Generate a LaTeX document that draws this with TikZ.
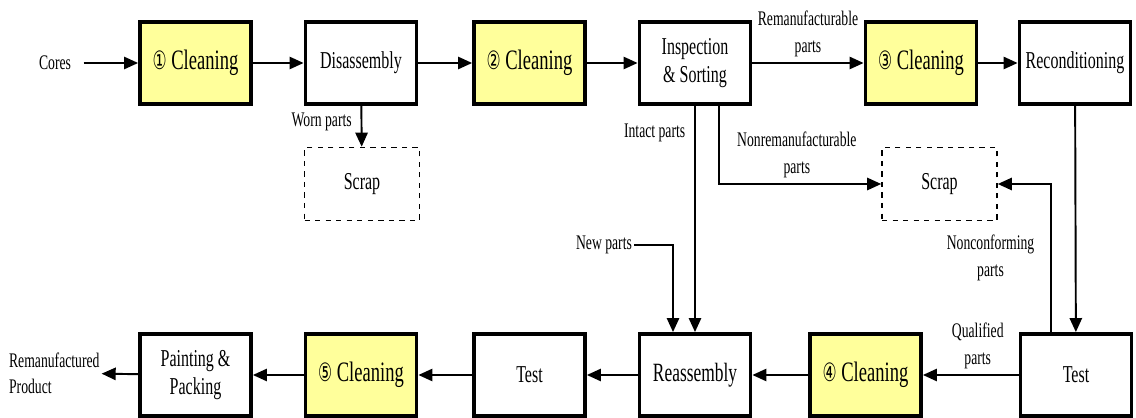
\documentclass[tikz,border=0pt]{standalone}
\usepackage{fontspec}
\setmainfont{Liberation Serif}[FakeStretch=0.66]
\newfontfamily\circfont{DejaVu Sans}[FakeStretch=0.62,Scale=0.9]
\usepackage{xcolor}
\usepackage{tikz}
\usetikzlibrary{arrows.meta}
\definecolor{cleanyellow}{RGB}{255,255,155}
\newcommand{\circn}[1]{{\circfont\ifcase#1\or①\or②\or③\or④\or⑤\fi}}

\begin{document}
\begin{tikzpicture}[x=0.02cm,y=-0.02cm,
  box/.style={draw,line width=2.2pt,minimum width=2.22cm,minimum height=1.64cm,align=center,font=\fontsize{13.8}{15.5}\selectfont},
  clean/.style={box,fill=cleanyellow,font=\fontsize{16}{18}\selectfont},
  scrapbox/.style={draw,dashed,line width=0.9pt,minimum width=2.3cm,minimum height=1.46cm,font=\fontsize{13.8}{15}\selectfont},
  lbl/.style={align=center,inner sep=1pt,font=\fontsize{11.8}{15}\selectfont},
  arr/.style={line width=1.1pt,-{Triangle[length=8pt,width=7pt]}}]
\useasboundingbox (0,0) rectangle (1136,418);

\node[clean] (c1) at (195.5,63) {\circn{1} Cleaning};
\node[box] (dis) at (361,63) {Disassembly};
\node[clean] (c2) at (529.5,63) {\circn{2} Cleaning};
\node[box] (insp) at (695,63) {Inspection\\\& Sorting};
\node[clean] (c3) at (921,63) {\circn{3} Cleaning};
\node[box] (recon) at (1075,63) {Reconditioning};

\node[scrapbox] (scrap1) at (362,184) {Scrap};
\node[scrapbox] (scrap2) at (939.5,184) {Scrap};

\node[box] (paint) at (195.5,375) {Painting \&\\Packing};
\node[clean] (c5) at (361,375) {\circn{5} Cleaning};
\node[box] (test1) at (529.5,375) {Test};
\node[box,font=\fontsize{15}{17}\selectfont] (reas) at (695,375) {Reassembly};
\node[clean] (c4) at (865.5,375) {\circn{4} Cleaning};
\node[box] (test2) at (1076,375) {Test};

\node[lbl] (cores) at (55,63) {Cores};
\node[lbl] (newp) at (604,245) {New parts};
\node[lbl,align=left,anchor=west] (prod) at (7,373) {Remanufactured\\Product};

\draw[arr,shorten <=6pt] (cores) -- (c1);
\draw[arr] (c1) -- (dis);
\draw[arr] (dis) -- (c2);
\draw[arr] (c2) -- (insp);
\draw[arr] (insp) -- (c3) node[lbl,midway,above=2pt]{Remanufacturable\\parts};
\draw[arr] (c3) -- (recon);

\draw[arr] (dis) -- (scrap1) node[lbl,pos=0.38,left=4pt]{Worn parts};
\draw[arr] (insp) -- (reas) node[lbl,pos=0.12,left=4pt]{Intact parts};
\draw[arr] ([xshift=0.48cm]insp.south) |- (scrap2) node[lbl,pos=0.74,above=2pt]{Nonremanufacturable\\parts};
\draw[arr] (newp) -| ([xshift=-0.44cm]reas.north);

\draw[arr] (recon) -- (test2);
\draw[arr] ([xshift=-0.5cm]test2.north) |- (scrap2) node[lbl,pos=0.25,left=8pt]{Nonconforming\\parts};
\draw[arr] (test2) -- (c4) node[lbl,midway,above=2pt,xshift=0.14cm]{Qualified\\parts};
\draw[arr] (c4) -- (reas);
\draw[arr] (reas) -- (test1);
\draw[arr] (test1) -- (c5);
\draw[arr] (c5) -- (paint);
\draw[arr] (paint) -- (prod);
\end{tikzpicture}
\end{document}
